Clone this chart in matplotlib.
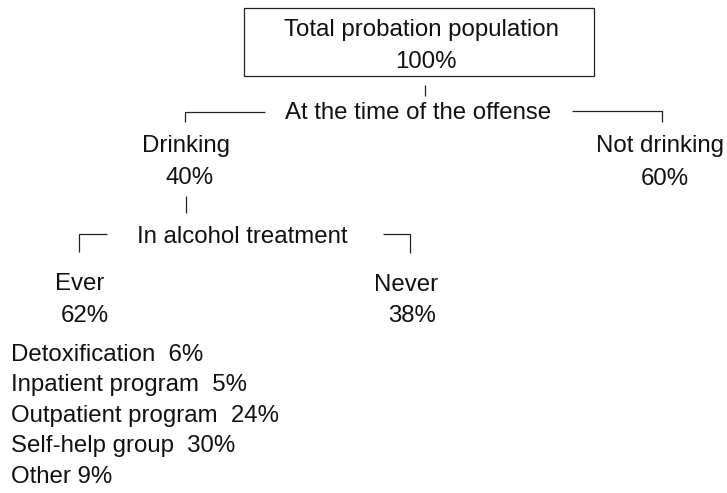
import matplotlib
matplotlib.use("Agg")
import matplotlib.pyplot as plt
from matplotlib.patches import Rectangle

# ---- data ----
root_label = "Total probation population"
root_pct = 100
level1_question = "At the time of the offense"
level1_labels = ["Drinking", "Not drinking"]
level1_pcts = [40, 60]
level2_question = "In alcohol treatment"
level2_labels = ["Ever", "Never"]
level2_pcts = [62, 38]
treatment_types = ["Detoxification", "Inpatient program", "Outpatient program",
                   "Self-help group", "Other"]
treatment_pcts = [6, 5, 24, 30, 9]
treatment_sep = ["  ", "  ", "  ", "  ", " "]

# ---- layout (pixel coordinates) ----
W, H = 727, 493
FS = 17.3
FONT = "Liberation Sans"
LC = "#222222"
LW = 0.9

fig = plt.figure(figsize=(W / 100, H / 100), dpi=100)
ax = fig.add_axes([0, 0, 1, 1])
ax.set_xlim(0, W)
ax.set_ylim(H, 0)
ax.axis("off")

def txt(x, y, s, ha="center"):
    ax.text(x, y, s, ha=ha, va="baseline", fontsize=FS, family=FONT, color="#111111")

def line(xs, ys):
    ax.plot(xs, ys, color=LC, lw=LW, solid_capstyle="butt")

# root box
ax.add_patch(Rectangle((244, 8), 350, 68, fill=False, ec=LC, lw=LW))
txt(421, 36, root_label)
txt(426, 68, f"{root_pct}%")
line([425, 425], [85, 96])

# level 1
txt(418, 119, level1_question)
line([185, 185, 265], [122, 112, 112])
line([572, 662, 662], [111, 111, 122])
l1_pos = [(186, 152, 190, 184), (660, 152, 665, 185)]
for (lx, ly, px, py), lab, pct in zip(l1_pos, level1_labels, level1_pcts):
    txt(lx, ly, lab)
    txt(px, py, f"{pct}%")
line([186, 186], [196, 213])

# level 2
txt(242, 243, level2_question)
line([79, 79, 107], [252, 234, 234])
line([383, 410, 410], [234, 234, 253])
l2_pos = [(80, 290, 85, 322), (406, 291, 412, 322)]
for (lx, ly, px, py), lab, pct in zip(l2_pos, level2_labels, level2_pcts):
    txt(lx, ly, lab)
    txt(px, py, f"{pct}%")

# treatment types list
list_y = [361, 391, 422, 452, 483]
for y, lab, sep, pct in zip(list_y, treatment_types, treatment_sep, treatment_pcts):
    txt(11, y, f"{lab}{sep}{pct}%", ha="left")

fig.savefig("out.png", dpi=100)
